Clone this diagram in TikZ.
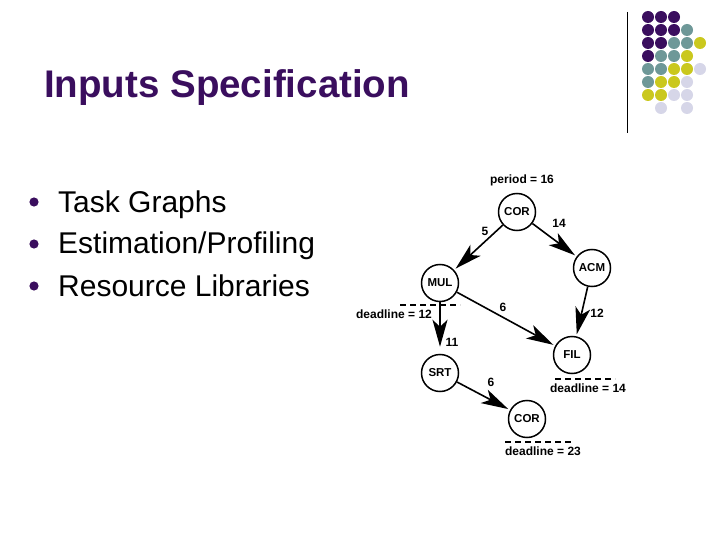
\documentclass[tikz,border=0pt]{standalone}
\usepackage{fontspec}
\setmainfont{Liberation Sans}
\usetikzlibrary{arrows.meta}
\definecolor{slidepurple}{RGB}{58,14,94}
\definecolor{dotteal}{RGB}{110,152,152}
\definecolor{dotyellow}{RGB}{202,200,30}
\definecolor{dotlilac}{RGB}{214,214,232}

\begin{document}
\begin{tikzpicture}[x=1pt,y=-1pt,
  task/.style={draw,circle,line width=1.5pt,minimum size=37pt,inner sep=0pt,font=\fontsize{11.5}{11.5}\selectfont\bfseries},
  dep/.style={line width=1.6pt,shorten >=2pt,-{Stealth[length=27pt,width=15pt,inset=7pt]}},
  lbl/.style={font=\fontsize{12}{12}\selectfont\bfseries,inner sep=0pt},
  dline/.style={line width=1.4pt,dash pattern=on 6pt off 4pt}]
\useasboundingbox (0,0) rectangle (720,540);
\fill[white] (0,0) rectangle (720,540);

% title and bullets
\node[anchor=base west,inner sep=0pt,text=slidepurple,font=\fontsize{38.5}{38.5}\selectfont\bfseries] (title) at (44,98) {Inputs Specification};
\foreach \txt [count=\i] in {Task Graphs,Estimation/Profiling,Resource Libraries} {
  \fill[slidepurple] (34,160+42*\i) circle (4.6pt);
  \node[anchor=base west,inner sep=0pt,font=\fontsize{30}{30}\selectfont] (item\i) at (58,170+42*\i) {\txt};
}

% corner decoration
\draw[line width=1pt] (627,12) -- (627,133);
\foreach \c/\r/\col in {1/1/slidepurple,2/1/slidepurple,3/1/slidepurple,
  1/2/slidepurple,2/2/slidepurple,3/2/slidepurple,4/2/dotteal,
  1/3/slidepurple,2/3/slidepurple,3/3/dotteal,4/3/dotteal,5/3/dotyellow,
  1/4/slidepurple,2/4/dotteal,3/4/dotteal,4/4/dotyellow,
  1/5/dotteal,2/5/dotteal,3/5/dotyellow,4/5/dotyellow,5/5/dotlilac,
  1/6/dotteal,2/6/dotyellow,3/6/dotyellow,4/6/dotlilac,
  1/7/dotyellow,2/7/dotyellow,3/7/dotlilac,4/7/dotlilac,
  2/8/dotlilac,4/8/dotlilac}
  \fill[\col] (635+13*\c,4+13*\r) circle (6pt);

% task graph
\node[task] (cor1) at (517,212) {COR};
\node[task] (acm) at (592,268) {ACM};
\node[task] (mul) at (440,283) {MUL};
\node[task] (fil) at (572,355) {FIL};
\node[task] (srt) at (440,373) {SRT};
\node[task] (cor2) at (527,419) {COR};

\draw[dep] (cor1) -- (mul);
\draw[dep] (cor1) -- (acm);
\draw[dep] (acm) -- (fil);
\draw[dep] (mul) -- (fil);
\draw[dep,shorten >=7pt] (mul) -- (srt);
\draw[dep] (srt) -- (cor2);

\node[lbl] (period) at (522,180) {period = 16};
\node[lbl] at (485,231) {5};
\node[lbl] at (559,223) {14};
\node[lbl] at (503,307) {6};
\node[lbl] at (597,313) {12};
\node[lbl] at (452,342) {11};
\node[lbl] at (491,382) {6};

% deadlines
\draw[dline] (400,305) -- (460,305);
\node[lbl] at (394,314) {deadline = 12};
\draw[dline] (555,379) -- (615,379);
\node[lbl] at (588,388) {deadline = 14};
\draw[dline] (505,442) -- (571,442);
\node[lbl] at (543,451) {deadline = 23};
\end{tikzpicture}
\end{document}
